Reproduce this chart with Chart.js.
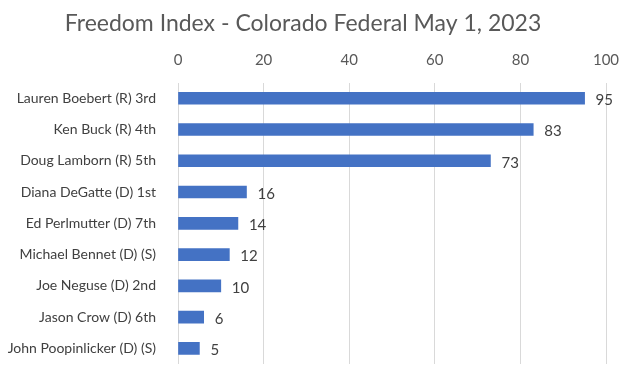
<!DOCTYPE html>
<html>
<head>
<meta charset="utf-8">
<script src="https://cdn.jsdelivr.net/npm/chart.js@4/dist/chart.umd.min.js"></script>
<style>
  html, body { margin: 0; padding: 0; background: #fff; overflow: hidden; }
</style>
</head>
<body>
<canvas id="freedomChart" width="635" height="369"></canvas>
<script>
const chartTitle = 'Freedom Index - Colorado Federal May 1, 2023';
const names = [
    'Lauren Boebert (R) 3rd',
    'Ken Buck (R) 4th',
    'Doug Lamborn (R) 5th',
    'Diana DeGatte (D) 1st',
    'Ed Perlmutter (D) 7th',
    'Michael Bennet (D) (S)',
    'Joe Neguse (D) 2nd',
    'Jason Crow (D) 6th',
    'John Poopinlicker (D) (S)'
];
const scores = [95, 83, 73, 16, 14, 12, 10, 6, 5];
const xTicks = [0, 20, 40, 60, 80, 100];

const FONT = 'Lato, "Open Sans", sans-serif';

// draws the value at the end of each bar
const valueLabels = {
    id: 'valueLabels',
    afterDatasetsDraw(chart) {
        const ctx = chart.ctx;
        const meta = chart.getDatasetMeta(0);
        ctx.save();
        ctx.font = '15px ' + FONT;
        ctx.fillStyle = '#404040';
        ctx.textAlign = 'left';
        ctx.textBaseline = 'middle';
        meta.data.forEach((bar, i) => {
            ctx.fillText(String(scores[i]), bar.x + 11, bar.y + 2);
        });
        ctx.restore();
    }
};

new Chart(document.getElementById('freedomChart'), {
    type: 'bar',
    data: {
        labels: names,
        datasets: [{
            data: scores,
            backgroundColor: '#4472C4',
            barThickness: 12
        }]
    },
    options: {
        indexAxis: 'y',
        responsive: false,
        animation: false,
        layout: { padding: { left: 0, right: 29, top: 0, bottom: 5 } },
        plugins: {
            legend: { display: false },
            tooltip: { enabled: false },
            title: {
                display: true,
                text: chartTitle,
                color: '#595959',
                font: { family: FONT, size: 23, weight: 'normal' },
                padding: { top: 10, bottom: 0 }
            }
        },
        scales: {
            x: {
                position: 'top',
                min: 0,
                max: 100,
                afterBuildTicks(axis) {
                    axis.ticks = xTicks.map(v => ({ value: v }));
                },
                afterFit(axis) { axis.height = 45; },
                grid: { color: '#d9d9d9', drawTicks: false },
                border: { display: false },
                ticks: {
                    color: '#595959',
                    padding: 13,
                    font: { family: FONT, size: 15 }
                }
            },
            y: {
                afterFit(axis) {
                    axis.width = 178;
                    axis.paddingTop = 0;
                    axis.paddingBottom = 0;
                },
                grid: { display: false },
                border: { display: false },
                ticks: {
                    color: '#404040',
                    padding: 14,
                    font: { family: FONT, size: 14 }
                }
            }
        }
    },
    plugins: [valueLabels]
});
</script>
</body>
</html>
